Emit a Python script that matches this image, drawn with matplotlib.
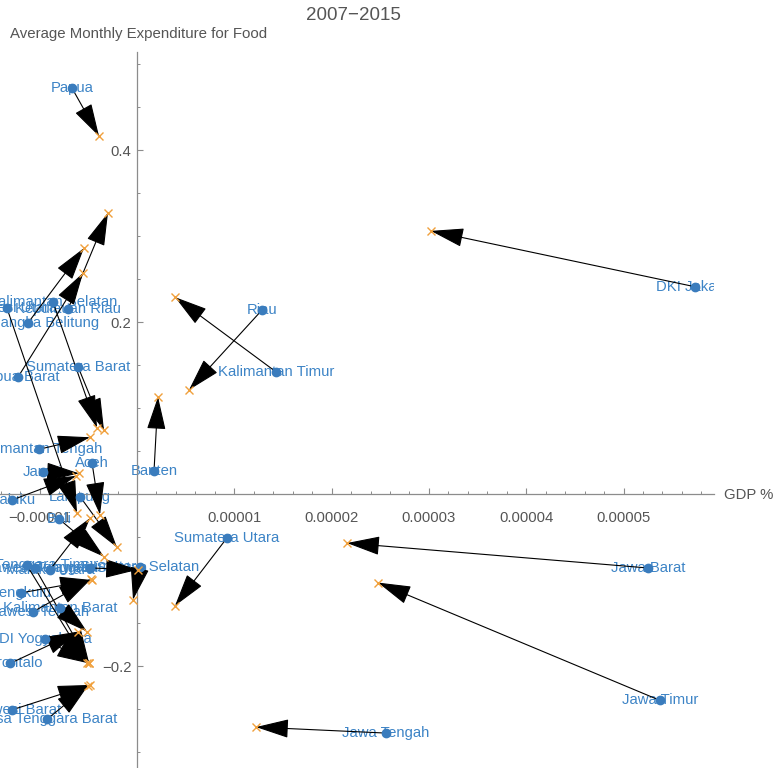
import numpy as np
import matplotlib
matplotlib.use("Agg")
import matplotlib.pyplot as plt
from matplotlib.patches import ArrowStyle
from matplotlib.ticker import MultipleLocator

plt.rcParams['font.family'] = ['Liberation Sans', 'DejaVu Sans']

# province, GDP share and food expenditure change: 2007 (start) -> 2015 (end)
provinces = [
    "Papua", "DKI Jakarta", "Riau", "Kalimantan Timur", "Banten",
    "Sumatera Utara", "Jawa Barat", "Jawa Timur", "Jawa Tengah",
    "Kalimantan Selatan", "Kepulauan Riau", "Kep. Bangka Belitung", "Papua Barat",
    "Sumatera Barat", "Sulawesi Utara", "Kalimantan Tengah", "Jambi", "Maluku",
    "Aceh", "Lampung", "Bali", "Sumatera Selatan", "Nusa Tenggara Timur",
    "Sulawesi Tenggara", "Sulawesi Selatan", "Maluku Utara", "Sulawesi Tengah",
    "Kalimantan Barat", "Bengkulu", "DI Yogyakarta", "Gorontalo",
    "Sulawesi Barat", "Nusa Tenggara Barat",
]
gdp_2007 = [
    -6.68e-6, 5.735e-5, 1.285e-5, 1.429e-5, 1.75e-6,
    9.25e-6, 5.25e-5, 5.375e-5, 2.56e-5,
    -8.63e-6, -7.09e-6, -1.12e-5, -1.223e-5,
    -6.06e-6, -1.336e-5, -1.007e-5, -9.66e-6, -1.285e-5,
    -4.62e-6, -5.86e-6, -8.02e-6, 3.1e-7, -1.131e-5,
    -1.048e-5, -4.83e-6, -8.94e-6, -1.069e-5,
    -7.91e-6, -1.192e-5, -9.46e-6, -1.305e-5,
    -1.285e-5, -9.25e-6,
]
food_2007 = [
    0.472, 0.241, 0.214, 0.142, 0.027,
    -0.051, -0.086, -0.240, -0.278,
    0.223, 0.215, 0.199, 0.136,
    0.148, 0.216, 0.052, 0.026, -0.007,
    0.036, -0.003, -0.029, -0.085, -0.083,
    -0.086, -0.086, -0.088, -0.137,
    -0.133, -0.115, -0.169, -0.197,
    -0.251, -0.262,
]
gdp_2015 = [
    -3.9e-6, 3.02e-5, 5.34e-6, 3.9e-6, 2.16e-6,
    3.9e-6, 2.158e-5, 2.477e-5, 1.223e-5,
    -4.11e-6, -2.98e-6, -5.45e-6, -5.55e-6,
    -3.39e-6, -6.17e-6, -4.83e-6, -5.96e-6, -6.27e-6,
    -3.8e-6, -2.06e-6, -3.39e-6, -4.1e-7, -5.14e-6,
    -4.93e-6, 1.0e-7, -4.83e-6, -4.73e-6,
    -5.14e-6, -4.62e-6, -4.93e-6, -6.06e-6,
    -4.83e-6, -5.04e-6,
]
food_2015 = [
    0.416, 0.306, 0.121, 0.229, 0.113,
    -0.130, -0.057, -0.103, -0.271,
    0.077, 0.327, 0.286, 0.257,
    0.074, -0.022, 0.066, 0.024, 0.021,
    -0.024, -0.062, -0.073, -0.123, -0.197,
    -0.196, -0.088, -0.028, -0.099,
    -0.160, -0.100, -0.197, -0.160,
    -0.222, -0.223,
]

x_ticks = [-1e-5, 1e-5, 2e-5, 3e-5, 4e-5, 5e-5]
x_tick_labels = ["\u22120.00001", "0.00001", "0.00002", "0.00003", "0.00004", "0.00005"]
y_ticks = [-0.2, 0.2, 0.4]
y_tick_labels = ["\u22120.2", "0.2", "0.4"]

axis_gray = "#8c8c8c"
text_gray = "#555555"
dot_blue = "#3a7cbd"
label_blue = "#3d84c6"
cross_orange = "#f0a03c"
fs = 10.7

fig = plt.figure(figsize=(7.76, 7.68), dpi=100)
ax = fig.add_axes([0.0, 0.0, 714 / 776, (768 - 52) / 768])
ax.set_xlim(-1.408e-5, 5.93e-5)
ax.set_ylim(-0.3186, 0.514)

# axes crossing at the origin
for side in ("top", "right"):
    ax.spines[side].set_visible(False)
for side in ("left", "bottom"):
    ax.spines[side].set_position(("data", 0))
    ax.spines[side].set_color(axis_gray)
    ax.spines[side].set_linewidth(0.9)

ax.set_xticks(x_ticks)
ax.set_xticklabels(x_tick_labels)
ax.set_yticks(y_ticks)
ax.set_yticklabels(y_tick_labels)
ax.xaxis.set_minor_locator(MultipleLocator(2e-6))
ax.yaxis.set_minor_locator(MultipleLocator(0.05))
ax.tick_params(axis="x", which="both", direction="in", colors=axis_gray,
               labelcolor=text_gray, labelsize=fs, pad=12)
ax.tick_params(axis="y", which="both", direction="in", colors=axis_gray,
               labelcolor=text_gray, labelsize=fs, pad=4)
ax.tick_params(which="major", length=4, width=0.8)
ax.tick_params(which="minor", length=2.5, width=0.7)
ax.patch.set_alpha(0)

# labels sit centred on the 2007 points
for name, gx, fy in zip(provinces, gdp_2007, food_2007):
    ax.text(gx, fy, name, ha="center", va="center", fontsize=fs,
            color=label_blue, clip_on=True, zorder=2)

head = ArrowStyle("-|>", head_length=2.1, head_width=0.6)
for x0, y0, x1, y1 in zip(gdp_2007, food_2007, gdp_2015, food_2015):
    ax.annotate("", xy=(x1, y1), xytext=(x0, y0),
                arrowprops=dict(arrowstyle=head, mutation_scale=10, color="black",
                                lw=0.8, shrinkA=0, shrinkB=0),
                zorder=3)

ax.plot(gdp_2007, food_2007, "o", color=dot_blue, markersize=6, zorder=4)
ax.plot(gdp_2015, food_2015, "x", color=cross_orange, markersize=6,
        markeredgewidth=1.0, zorder=5)

fig.text(353 / 776, 1 - 15 / 768, "2007\u22122015", ha="center", va="center",
         fontsize=13.5, color=text_gray)
fig.text(10 / 776, 1 - 34 / 768, "Average Monthly Expenditure for Food",
         ha="left", va="center", fontsize=10.8, color=text_gray)
fig.text(724 / 776, 1 - 495 / 768, "GDP %", ha="left", va="center",
         fontsize=fs, color=text_gray)

fig.savefig("out.png", dpi=100)
